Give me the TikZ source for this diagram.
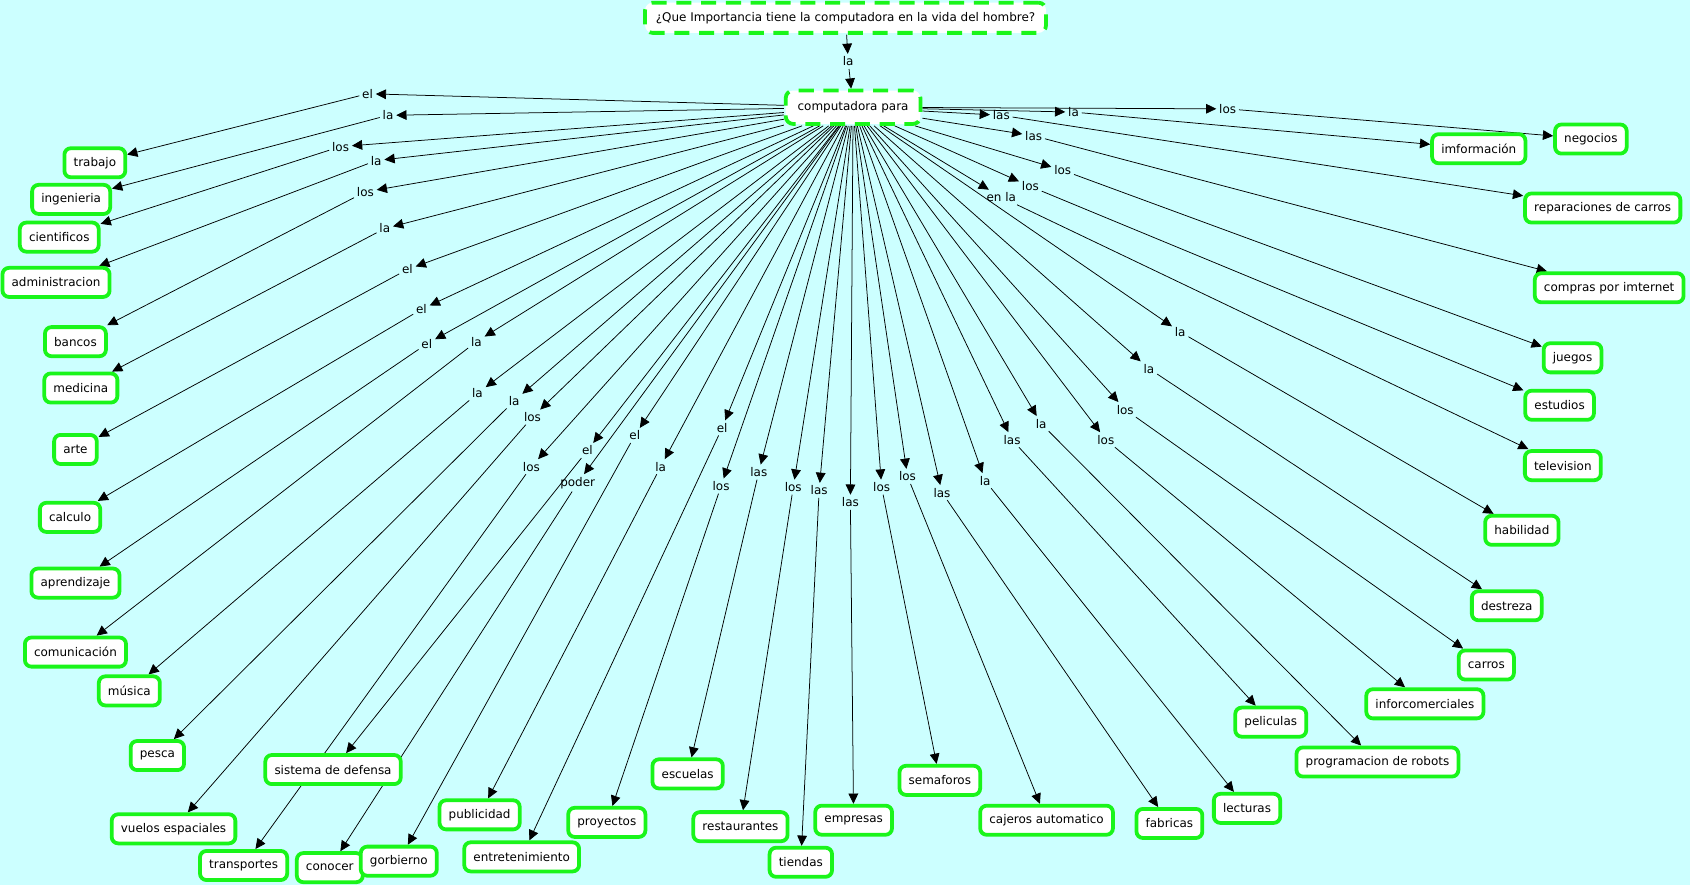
\documentclass[tikz,border=0pt]{standalone}
\usepackage{fontspec}
\setmainfont{DejaVu Sans}
\usetikzlibrary{arrows.meta}
\definecolor{MapBg} {HTML}{CCFFFF}
\definecolor{MapGrn}{HTML}{1AF51A}

\pgfdeclarelayer{bg}
\pgfdeclarelayer{links}
\pgfsetlayers{bg,links,main}

\tikzset{
  concept/.style={draw=MapGrn, line width=3.5pt, fill=white, rounded corners=6pt,
    inner xsep=8.5pt, inner ysep=0pt, minimum height=27pt},
  hub/.style={concept, dash pattern=on 14pt off 9pt, rounded corners=7pt},
  linkword/.style={inner sep=2.5pt},
  link/.style={-{Triangle[length=9.5pt,width=9pt]}, line width=0.7pt, black}
}

\begin{document}
\begin{tikzpicture}[x=1pt, y=-1pt, font=\fontsize{11.1}{13}\selectfont]
  % ── canvas ─────────────────────────────────────────────────────────────
  \begin{pgfonlayer}{bg}
    \fill[MapBg] (0,0) rectangle (1568,821);
  \end{pgfonlayer}
  \useasboundingbox (0,0) rectangle (1568,821);

  % ── main question and hub ──────────────────────────────────────────────
  \node[hub, minimum width=372pt, minimum height=28pt] (q) at (784.5,16.5)
    {¿Que Importancia tiene la computadora en la vida del hombre?};
  \node[linkword] (wq) at (787,57) {la};
  \node[hub, minimum width=125pt, minimum height=31pt] (cen) at (791.5,99.5)
    {computadora para};
  \begin{pgfonlayer}{links}
    \draw[link] (q) -- (wq);
    \draw[link] (wq) -- (cen);
  \end{pgfonlayer}

  % ── concepts ───────────────────────────────────────────────────────────
  \foreach \n/\x/\y/\t in {
      trab/88/151/trabajo, inge/66/185/ingenieria, cien/55/220/cientificos,
      admi/52/262/administracion, banc/70/317/bancos, medi/75/360/medicina,
      arte/70/417/arte, calc/65/480/calculo, apre/70/541/aprendizaje,
      comu/70/605/comunicación, musi/120/641/música, pesc/146/701/pesca,
      vuel/161/769/vuelos espaciales, sist/309/714/sistema de defensa,
      tran/226/803/transportes, cono/306/805/conocer, gorb/370/799/gorbierno,
      publ/445/756/publicidad, entr/484/795/entretenimiento, proy/563/763/proyectos,
      escu/638/718/escuelas, rest/687/767/restaurantes, tien/743/800/tiendas,
      empr/792/761/empresas, sema/872/724/semaforos, caje/971/761/cajeros automatico,
      fabr/1085/764/fabricas, lect/1157/750/lecturas, peli/1179/670/peliculas,
      prog/1278/707/programacion de robots, info/1322/653/inforcomerciales,
      carr/1379/617/carros, dest/1398/562/destreza, habi/1412/492/habilidad,
      tele/1450/432/television, estu/1447/376/estudios, jueg/1459/332/juegos,
      comp/1493/267/compras por imternet, repa/1487/193/reparaciones de carros,
      nego/1476/129/negocios, imfo/1372/138/imformación} {
    \node[concept] (\n) at (\x,\y) {\t};
  }

  % ── linking words: hub -> word -> concept ──────────────────────────────
  \foreach \k/\x/\y/\w/\c in {
      1/341/87/el/trab, 2/360/107/la/inge, 3/316/136/los/cien,
      4/349/149/la/admi, 5/339/178/los/banc, 6/357/212/la/medi,
      7/378/250/el/arte, 8/391/287/el/calc, 9/396/319/el/apre,
      10/442/317/la/comu, 11/443/365/la/musi, 12/477/372/la/pesc,
      13/494/387/los/vuel, 14/493/433/los/tran, 15/545/418/el/sist,
      16/536/448/poder/cono, 17/589/404/el/gorb, 18/613/433/la/publ,
      19/670/397/el/entr, 20/669/451/los/proy, 21/704/438/las/escu,
      22/736/452/los/rest, 23/760/455/las/tien, 24/789/466/las/empr,
      25/818/452/los/sema, 26/842/442/los/caje, 27/874/457/las/fabr,
      28/914/446/la/lect, 29/939/408/las/peli, 30/966/393/la/prog,
      31/1026/408/los/info, 32/1044/380/los/carr, 33/1066/342/la/dest,
      34/1095/308/la/habi, 35/929/183/en la/tele, 36/956/173/los/estu,
      37/986/158/los/jueg, 38/959/126/las/comp, 39/929/107/las/repa,
      40/996/104/la/imfo, 41/1139/101/los/nego} {
    \node[linkword] (w\k) at (\x,\y) {\w};
    \begin{pgfonlayer}{links}
      \draw[link] (cen) -- (w\k);
      \draw[link] (w\k) -- (\c);
    \end{pgfonlayer}
  }
\end{tikzpicture}
\end{document}
